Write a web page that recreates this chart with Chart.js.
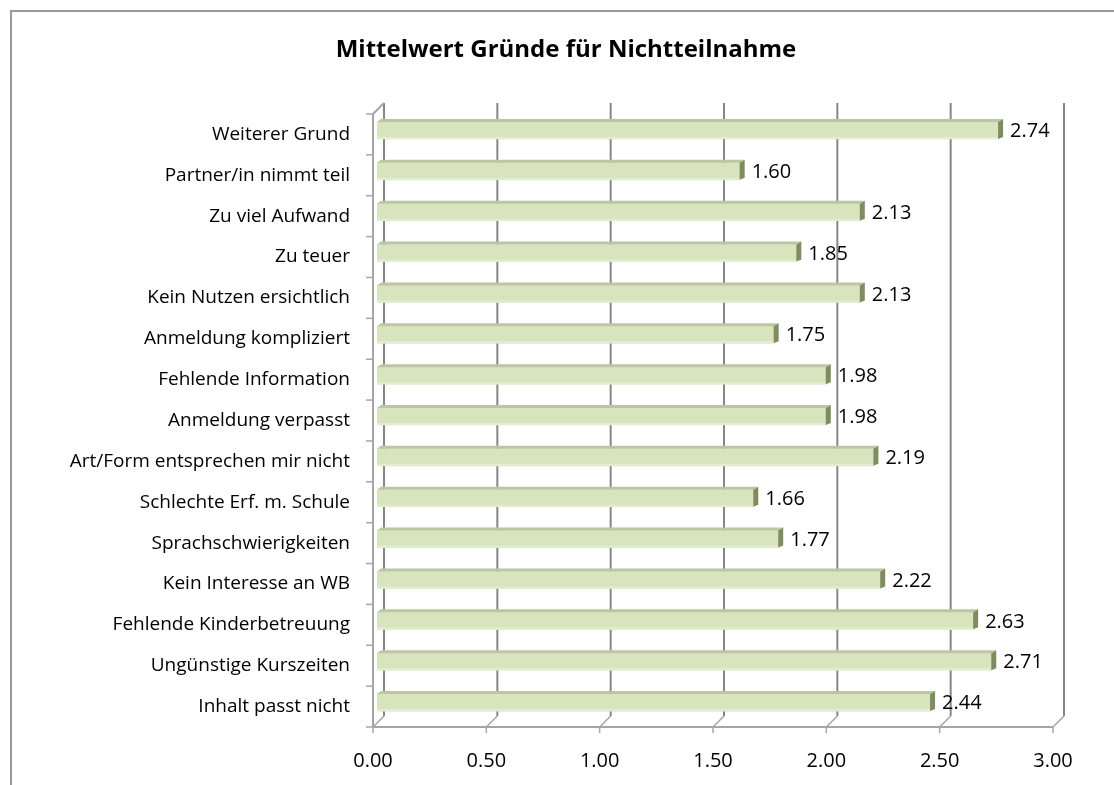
<!DOCTYPE html>
<html>
<head>
<meta charset="utf-8">
<script src="https://cdn.jsdelivr.net/npm/chart.js@4/dist/chart.umd.min.js"></script>
<style>
  html, body { margin: 0; padding: 0; background: #fff; }
  #wrap { width: 1114px; height: 785px; position: relative; }
</style>
</head>
<body>
<div id="wrap"><canvas id="myChart" width="1114" height="785"></canvas></div>
<script>
const chartTitle = "Mittelwert Gründe für Nichtteilnahme";

const categories = [
  "Weiterer Grund",
  "Partner/in nimmt teil",
  "Zu viel Aufwand",
  "Zu teuer",
  "Kein Nutzen ersichtlich",
  "Anmeldung kompliziert",
  "Fehlende Information",
  "Anmeldung verpasst",
  "Art/Form entsprechen mir nicht",
  "Schlechte Erf. m. Schule",
  "Sprachschwierigkeiten",
  "Kein Interesse an WB",
  "Fehlende Kinderbetreuung",
  "Ungünstige Kurszeiten",
  "Inhalt passt nicht"
];

const meanValues = [2.74, 1.60, 2.13, 1.85, 2.13, 1.75, 1.98, 1.98, 2.19, 1.66, 1.77, 2.22, 2.63, 2.71, 2.44];

const xTicks = [0, 0.5, 1, 1.5, 2, 2.5, 3];

const FONT = "'Open Sans', Lato, sans-serif";
const DX = 11, DY = 11;       // depth of the 3d frame
const BX = 4, BY = -4;        // shift of the bars into the frame

// frame, back wall grid and outer border
const framePlugin = {
  id: "frame",
  beforeDatasetsDraw(chart) {
    const { ctx, chartArea: a, scales: { x } } = chart;
    ctx.save();

    // outer chart border (left + top only visible)
    ctx.strokeStyle = "#999999";
    ctx.lineWidth = 2;
    ctx.beginPath();
    ctx.moveTo(11, 785);
    ctx.lineTo(11, 11);
    ctx.lineTo(1114, 11);
    ctx.stroke();

    // back wall gridlines
    ctx.strokeStyle = "#868686";
    ctx.lineWidth = 2;
    xTicks.forEach(v => {
      const xb = x.getPixelForValue(v) + DX;
      ctx.beginPath();
      ctx.moveTo(xb, a.top - DY);
      ctx.lineTo(xb, a.bottom - DY);
      ctx.stroke();
    });

    // floor connectors and bottom ticks
    ctx.strokeStyle = "#a6a6a6";
    ctx.lineWidth = 1.5;
    xTicks.forEach(v => {
      const xf = x.getPixelForValue(v);
      ctx.beginPath();
      ctx.moveTo(xf, a.bottom);
      ctx.lineTo(xf + DX, a.bottom - DY);
      ctx.moveTo(xf, a.bottom);
      ctx.lineTo(xf, a.bottom + 6);
      ctx.stroke();
    });

    // front bottom axis
    ctx.lineWidth = 2;
    ctx.beginPath();
    ctx.moveTo(a.left, a.bottom);
    ctx.lineTo(a.right, a.bottom);
    ctx.stroke();

    // left axis with top slant
    ctx.beginPath();
    ctx.moveTo(a.left, a.bottom);
    ctx.lineTo(a.left, a.top);
    ctx.lineTo(a.left + DX, a.top - DY);
    ctx.stroke();

    // left category ticks
    ctx.lineWidth = 1.5;
    const n = categories.length;
    for (let i = 0; i <= n; i++) {
      const yb = a.top + (a.bottom - a.top) * i / n;
      ctx.beginPath();
      ctx.moveTo(a.left - 7, yb);
      ctx.lineTo(a.left, yb);
      ctx.stroke();
    }

    // title
    ctx.fillStyle = "#000";
    ctx.font = "bold 24px " + FONT;
    ctx.textAlign = "center";
    ctx.textBaseline = "alphabetic";
    ctx.fillText(chartTitle, 566, 57);

    ctx.restore();

    // shift bars into the depth of the frame
    ctx.save();
    ctx.translate(BX, BY);
  },
  afterDatasetsDraw(chart) {
    const { ctx } = chart;
    const meta = chart.getDatasetMeta(0);
    // top face and end cap for the 3d look
    meta.data.forEach(bar => {
      const top = bar.y - bar.height / 2;
      const bot = bar.y + bar.height / 2;
      const left = bar.base;
      const right = bar.x;
      ctx.fillStyle = "#bcc6a2";
      ctx.beginPath();
      ctx.moveTo(left, top);
      ctx.lineTo(left + 4, top - 3);
      ctx.lineTo(right + 5, top - 3);
      ctx.lineTo(right, top);
      ctx.closePath();
      ctx.fill();
      ctx.fillStyle = "#e4ecd3";
      ctx.fillRect(left, bot - 2, right - left, 2);
      ctx.fillStyle = "#7f8c5f";
      ctx.beginPath();
      ctx.moveTo(right, top);
      ctx.lineTo(right + 5, top - 3);
      ctx.lineTo(right + 5, bot - 2);
      ctx.lineTo(right, bot);
      ctx.closePath();
      ctx.fill();
    });
    ctx.restore();

    // value labels
    ctx.save();
    ctx.fillStyle = "#000";
    ctx.font = "20px " + FONT;
    ctx.textAlign = "left";
    ctx.textBaseline = "middle";
    meta.data.forEach((bar, i) => {
      ctx.fillText(meanValues[i].toFixed(2), bar.x + BX + 12, bar.y + BY + 1);
    });
    ctx.restore();
  }
};

const ctx = document.getElementById("myChart");
new Chart(ctx, {
  type: "bar",
  data: {
    labels: categories,
    datasets: [{
      data: meanValues,
      backgroundColor: "#d7e4bd",
      borderWidth: 0,
      barThickness: 17
    }]
  },
  options: {
    indexAxis: "y",
    responsive: false,
    animation: false,
    layout: { padding: { top: 114, right: 61, left: 0, bottom: 0 } },
    plugins: {
      legend: { display: false },
      title: { display: false },
      tooltip: { enabled: false }
    },
    scales: {
      x: {
        min: 0,
        max: 3,
        afterBuildTicks: (s) => { s.ticks = xTicks.map(v => ({ value: v })); },
        grid: { display: false, drawTicks: false },
        border: { display: false },
        ticks: {
          color: "#000",
          font: { family: FONT, size: 20 },
          padding: 22,
          callback: (v) => Number(v).toFixed(2)
        },
        afterFit: (s) => { s.height = 58; }
      },
      y: {
        grid: { display: false, drawTicks: false },
        border: { display: false },
        ticks: {
          color: "#000",
          font: { family: FONT, size: 19 },
          padding: 23,
          autoSkip: false
        },
        afterFit: (s) => { s.width = 373; }
      }
    }
  },
  plugins: [framePlugin]
});
</script>
</body>
</html>
